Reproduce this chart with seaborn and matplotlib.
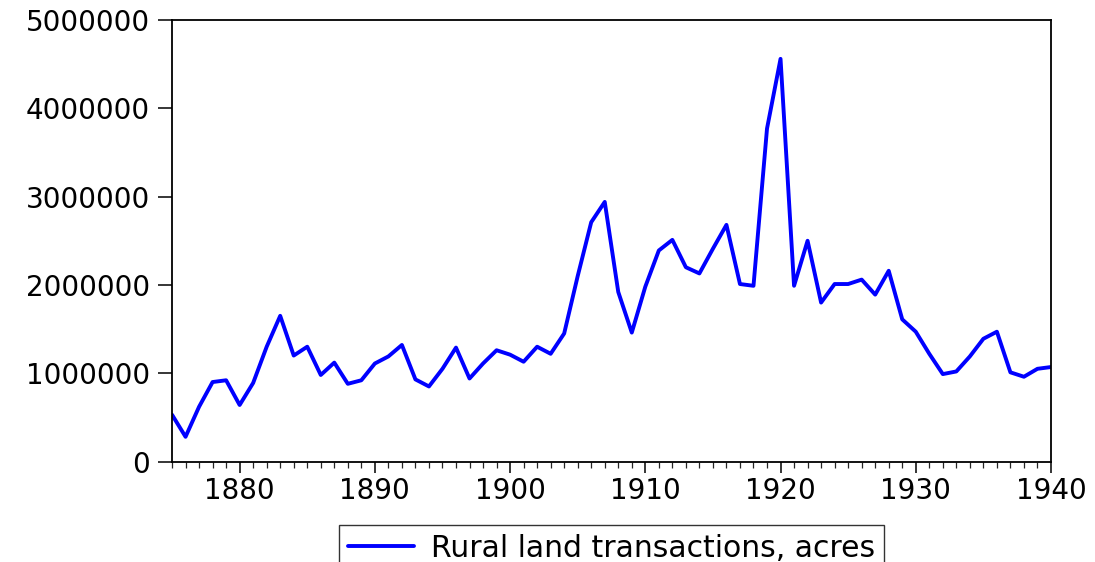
import matplotlib
matplotlib.use("Agg")
import matplotlib.pyplot as plt
from matplotlib.ticker import MultipleLocator, FuncFormatter
import seaborn as sns
import pandas as pd

years = list(range(1875, 1941))
acres = [
    530000, 280000, 620000, 900000, 920000, 640000, 890000, 1300000, 1650000, 1200000,
    1300000, 980000, 1120000, 880000, 920000, 1110000, 1190000, 1320000, 930000, 850000,
    1050000, 1290000, 940000, 1110000, 1260000, 1210000, 1130000, 1300000, 1220000, 1450000,
    2100000, 2710000, 2940000, 1920000, 1460000, 1980000, 2390000, 2510000, 2200000, 2130000,
    2410000, 2680000, 2010000, 1990000, 3770000, 4560000, 1990000, 2500000, 1800000, 2010000,
    2010000, 2060000, 1890000, 2160000, 1610000, 1470000, 1220000, 990000, 1020000, 1190000,
    1390000, 1470000, 1010000, 960000, 1050000, 1070000,
]
series_label = "Rural land transactions, acres"

df = pd.DataFrame({"year": years, "acres": acres})

sns.set_style("ticks")
plt.rcParams["font.family"] = ["DejaVu Sans"]
plt.rcParams["text.color"] = "black"

fig = plt.figure(figsize=(10.95, 5.62), dpi=100)
ax = fig.add_axes([0.1571, 0.1788, 0.8027, 0.7856])

sns.lineplot(data=df, x="year", y="acres", color="#0000ff", linewidth=2.8,
             label=series_label, ax=ax, legend=False)

ax.set_xlim(1875, 1940)
ax.set_ylim(0, 5000000)
ax.xaxis.set_major_locator(MultipleLocator(10))
ax.xaxis.set_minor_locator(MultipleLocator(1))
ax.yaxis.set_major_locator(MultipleLocator(1000000))
ax.yaxis.set_major_formatter(FuncFormatter(lambda v, p: f"{int(v)}"))
ax.set_xlabel("")
ax.set_ylabel("")

for s in ax.spines.values():
    s.set_visible(True)
    s.set_color("black")
    s.set_linewidth(1.3)

ax.tick_params(axis="x", which="major", direction="out", length=8, width=1.1,
               labelsize=20, pad=3, colors="black")
ax.tick_params(axis="x", which="minor", direction="out", length=4.5, width=0.9)
ax.tick_params(axis="y", which="major", direction="out", length=10, width=1.1,
               labelsize=20, pad=6, colors="black")

# legend box sits below the axes and runs off the bottom edge, like the original
leg = fig.legend(handles=ax.get_lines(), labels=[series_label],
                 loc="upper center", bbox_to_anchor=(0.5585, 0.066),
                 frameon=True, fancybox=False, fontsize=21.5,
                 handlelength=2.2, handletextpad=0.55, borderpad=0.3,
                 borderaxespad=0.0)
leg.get_frame().set_edgecolor("black")
leg.get_frame().set_linewidth(1.0)

fig.savefig("out.png", dpi=100)
